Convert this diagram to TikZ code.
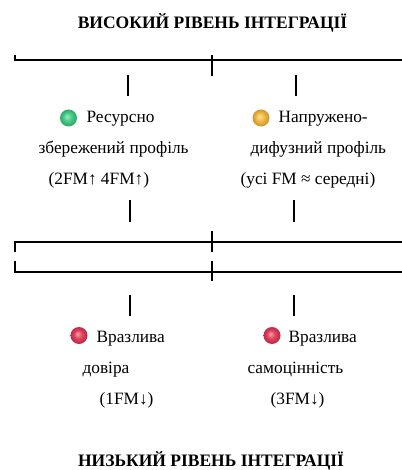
\documentclass[tikz,border=0pt]{standalone}
\usepackage{fontspec}
\setmainfont{Liberation Serif}
\definecolor{Mint}{RGB}{55, 200, 125}
\definecolor{Amber}{RGB}{240, 180, 55}
\definecolor{Crimson}{RGB}{222, 50, 80}
\colorlet{dotc}{Mint}
\pgfdeclareradialshading[dotc]{softball}{\pgfpoint{-5bp}{5bp}}{%
    color(0bp)=(dotc!45!white); color(12bp)=(dotc!92!white);
    color(24bp)=(dotc!85!black); color(30bp)=(dotc!85!black)}

\begin{document}
\begin{tikzpicture}[
        x=1pt, y=-1pt,
        font=\fontsize{17.3}{20}\selectfont,
        txt/.style = {anchor=base west, inner sep=0pt},
        title/.style = {anchor=base, inner sep=0pt, font=\fontsize{17.5}{20}\selectfont\bfseries},
        dot/.style = {circle, inner sep=0pt, minimum size=17pt,
                      /utils/exec={\colorlet{dotc}{#1}}, shading=softball},
        line width=1.2pt
    ]
    \useasboundingbox (0,0) rectangle (401,470);

    \node (high) at (212.5,29) [title] {ВИСОКИЙ РІВЕНЬ ІНТЕГРАЦІЇ};
    \node (low)  at (211,466)  [title] {НИЗЬКИЙ РІВЕНЬ ІНТЕГРАЦІЇ};

    \coordinate (B1l) at (15,60);  \coordinate (B1r) at (402,60);  \coordinate (B1c) at (212,60);
    \coordinate (B2l) at (15,242); \coordinate (B2r) at (402,242); \coordinate (B2c) at (212,242);
    \coordinate (B3l) at (15,272); \coordinate (B3r) at (402,272); \coordinate (B3c) at (212,272);

    \draw ([yshift=5pt]B1l) -- (B1l) -- (B1r);
    \draw ([yshift=-16pt]B1c) -- ([yshift=5pt]B1c);
    \draw ([yshift=-10pt]B2l) -- (B2l) -- (B2r);
    \draw ([yshift=-10pt]B2c) -- ([yshift=11pt]B2c);
    \draw ([yshift=11pt]B3l) -- (B3l) -- (B3r);
    \draw ([yshift=-9pt]B3c) -- ([yshift=11pt]B3c);

    \draw (128,75) -- (128,96);
    \draw (296,75) -- (296,96);
    \draw (130,200) -- (130,222);
    \draw (294,200) -- (294,222);
    \draw (130,295) -- (130,316);
    \draw (294,295) -- (294,316);

    \node (G)  at (68.5,118)  [dot=Mint] {};
    \node (O)  at (261,118)   [dot=Amber] {};
    \node (R1) at (79,335.5)  [dot=Crimson] {};
    \node (R2) at (272,335.5) [dot=Crimson] {};

    \node (res)  at (86,123)  [txt] {Ресурсно};
    \node (resp) at (38,154)  [txt] {збережений профіль};
    \node (resv) at (48,185)  [txt] {(2FM↑ 4FM↑)};
    \node (nap)  at (278,123) [txt] {Напружено-};
    \node (napp) at (250,154) [txt] {дифузний профіль};
    \node (napv) at (240,185) [txt] {(усі FM ≈ середні)};

    \node (vd)   at (96,342)  [txt] {Вразлива};
    \node (vdp)  at (82,373)  [txt] {довіра};
    \node (vdv)  at (99,404)  [txt] {(1FM↓)};
    \node (vs)   at (288,342) [txt] {Вразлива};
    \node (vsp)  at (247,373) [txt] {самоцінність};
    \node (vsv)  at (270,404) [txt] {(3FM↓)};
\end{tikzpicture}
\end{document}
